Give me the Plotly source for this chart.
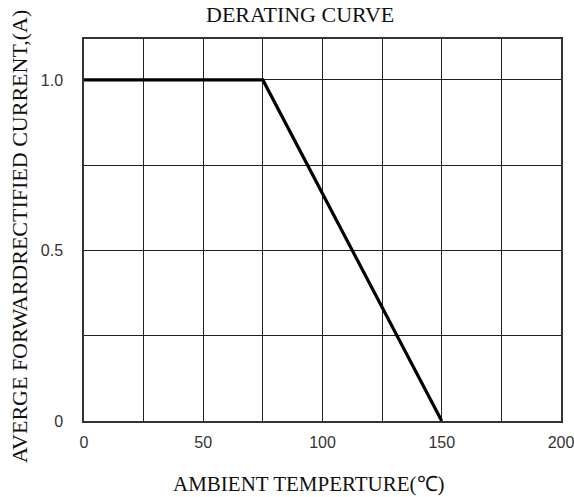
import plotly.graph_objects as go

temperature = [0, 75, 150]
current = [1.0, 1.0, 0.0]

x_tick_vals = [0, 25, 50, 75, 100, 125, 150, 175, 200]
x_tick_text = ["0", "", "50", "", "100", "", "150", "", "200"]
y_tick_vals = [0, 0.25, 0.5, 0.75, 1.0]
y_tick_text = ["0", "", "0.5", "", "1.0"]

title_text = "DERATING CURVE"
x_title = "AMBIENT TEMPERTURE(℃)"
y_title = "AVERGE FORWARDRECTIFIED CURRENT,(A)"

W, H = 574, 497
PL, PR, PT, PB = 84, 561, 39, 421  # plot area in page pixels
pw, ph = PR - PL, PB - PT

fig = go.Figure()
fig.add_trace(go.Scatter(x=temperature, y=current, mode="lines",
                         line=dict(color="black", width=3.2), showlegend=False,
                         cliponaxis=False, hoverinfo="skip"))

serif = "Liberation Serif, Times New Roman, serif"
sans = "Liberation Sans, Arial, sans-serif"

fig.update_layout(
    width=W, height=H,
    margin=dict(l=PL, r=W - PR, t=PT, b=H - PB, pad=0, autoexpand=False),
    paper_bgcolor="white", plot_bgcolor="white",
    showlegend=False,
    xaxis=dict(range=[0, 200], tickvals=x_tick_vals, ticktext=x_tick_text,
               showgrid=True, gridcolor="#222", gridwidth=1.2,
               showline=True, linecolor="#333", linewidth=1.5, mirror=True,
               ticks="", ticklabelstandoff=6, zeroline=False, automargin=False,
               ticklabeloverflow="allow",
               tickfont=dict(family=sans, size=16, color="#333")),
    yaxis=dict(range=[0, 1.12], tickvals=y_tick_vals, ticktext=y_tick_text,
               showgrid=True, gridcolor="#222", gridwidth=1.2,
               showline=True, linecolor="#333", linewidth=1.5, mirror=True,
               ticks="", ticklabelstandoff=16, zeroline=False, automargin=False,
               tickfont=dict(family=sans, size=16, color="#333")),
    annotations=[
        dict(text=title_text, xref="paper", yref="paper", showarrow=False,
             x=(300 - PL) / pw, y=1 + (PT - 14) / ph, xanchor="center", yanchor="middle",
             font=dict(family=serif, size=22, color="#111")),
        dict(text=x_title, xref="paper", yref="paper", showarrow=False,
             x=(309 - PL) / pw, y=-(484 - PB) / ph, xanchor="center", yanchor="middle",
             font=dict(family=serif, size=21, color="#111")),
        dict(text=y_title, xref="paper", yref="paper", showarrow=False, textangle=-90,
             x=-(PL - 20) / pw, y=(PB - 237) / ph, xanchor="center", yanchor="middle",
             font=dict(family=serif, size=22, color="#111")),
    ],
)

fig.write_html("out.html", config={"displayModeBar": False},
               post_script="document.body.style.margin='0';document.body.style.overflow='hidden';")
